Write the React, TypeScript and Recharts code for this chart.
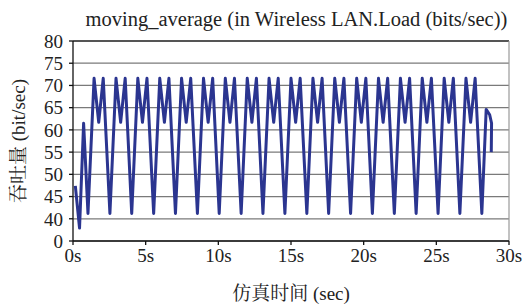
import { LineChart, Line, XAxis, YAxis, CartesianGrid, ReferenceLine } from 'recharts';

// simulation time (s) and moving-average load
const times = [
  0.16, 0.45, 0.73,
  1.03, 1.45, 1.77, 2.08,
  2.54, 2.96, 3.28, 3.59,
  4.04, 4.46, 4.78, 5.09,
  5.55, 5.97, 6.29, 6.6,
  7.05, 7.47, 7.79, 8.1,
  8.56, 8.98, 9.3, 9.61,
  10.06, 10.48, 10.8, 11.11,
  11.57, 11.99, 12.31, 12.62,
  13.07, 13.49, 13.81, 14.12,
  14.58, 15.0, 15.32, 15.63,
  16.09, 16.51, 16.83, 17.14,
  17.59, 18.01, 18.33, 18.64,
  19.1, 19.52, 19.84, 20.15,
  20.6, 21.02, 21.34, 21.65,
  22.11, 22.53, 22.85, 23.16,
  23.61, 24.03, 24.35, 24.66,
  25.12, 25.54, 25.86, 26.17,
  26.62, 27.04, 27.36, 27.67,
  28.13, 28.43, 28.67, 28.8, 28.78,
];

const load = [
  47.4, 37.9, 61.5,
  41.2, 71.6, 61.7, 71.6,
  41.2, 71.6, 61.7, 71.6,
  41.2, 71.6, 61.7, 71.6,
  41.2, 71.6, 61.7, 71.6,
  41.2, 71.6, 61.7, 71.6,
  41.2, 71.6, 61.7, 71.6,
  41.2, 71.6, 61.7, 71.6,
  41.2, 71.6, 61.7, 71.6,
  41.2, 71.6, 61.7, 71.6,
  41.2, 71.6, 61.7, 71.6,
  41.2, 71.6, 61.7, 71.6,
  41.2, 71.6, 61.7, 71.6,
  41.2, 71.6, 61.7, 71.6,
  41.2, 71.6, 61.7, 71.6,
  41.2, 71.6, 61.7, 71.6,
  41.2, 71.6, 61.7, 71.6,
  41.2, 71.6, 61.7, 71.6,
  41.2, 71.6, 61.7, 71.6,
  41.2, 64.6, 63.4, 61.5, 55.0,
];

const xTicks = [0, 5, 10, 15, 20, 25, 30];
// broken axis: the bottom gridline is labelled 0, then 40..80
const yTicks = [35, 40, 45, 50, 55, 60, 65, 70, 75, 80];

const data = times.map((t, i) => ({ t, v: load[i] }));

const font = 'Liberation Serif, Noto Serif CJK SC, Noto Sans CJK SC, serif';
const tickStyle = { fontSize: 19, fill: '#222', fontFamily: font };

export default function App() {
  return (
    <div style={{ position: 'absolute', left: 0, top: 0, width: 523, height: 305, background: '#fff' }}>
      <div
        style={{
          position: 'absolute',
          left: 0,
          top: 7,
          width: 523,
          paddingLeft: 70,
          boxSizing: 'border-box',
          textAlign: 'center',
          fontFamily: font,
          fontSize: 20.5,
          color: '#222',
          lineHeight: '24px',
          whiteSpace: 'nowrap',
        }}
      >
        moving_average (in Wireless LAN.Load (bits/sec))
      </div>
      <LineChart width={523} height={305} data={data} margin={{ top: 41, right: 14, bottom: 0, left: 0 }}>
        <CartesianGrid vertical={false} stroke="#7a7a7a" strokeWidth={1.2} />
        <XAxis
          type="number"
          dataKey="t"
          domain={[0, 30]}
          ticks={xTicks}
          interval={0}
          height={64}
          tickFormatter={(v) => `${v}s`}
          tick={tickStyle}
          tickSize={4}
          tickMargin={4}
          stroke="#111"
          strokeWidth={1.3}
          label={{ value: '仿真时间 (sec)', position: 'insideBottom', offset: 5, style: { fontSize: 19, fill: '#222', fontFamily: font } }}
        />
        <YAxis
          type="number"
          domain={[35, 80]}
          ticks={yTicks}
          interval={0}
          tickFormatter={(v) => (v === 35 ? '0' : `${v}`)}
          tick={tickStyle}
          tickSize={4}
          tickMargin={6}
          width={73}
          stroke="#111"
          strokeWidth={1.3}
          label={{ value: '吞吐量 (bit/sec)', angle: -90, position: 'insideLeft', offset: 18, style: { fontSize: 19, fill: '#222', fontFamily: font, textAnchor: 'middle' } }}
        />
        <ReferenceLine y={80} stroke="#333" strokeWidth={1.3} />
        <ReferenceLine x={30} stroke="#999" strokeWidth={1.2} />
        <Line
          type="linear"
          dataKey="v"
          stroke="#2b3590"
          strokeWidth={3}
          strokeLinejoin="round"
          dot={false}
          isAnimationActive={false}
        />
      </LineChart>
    </div>
  );
}
